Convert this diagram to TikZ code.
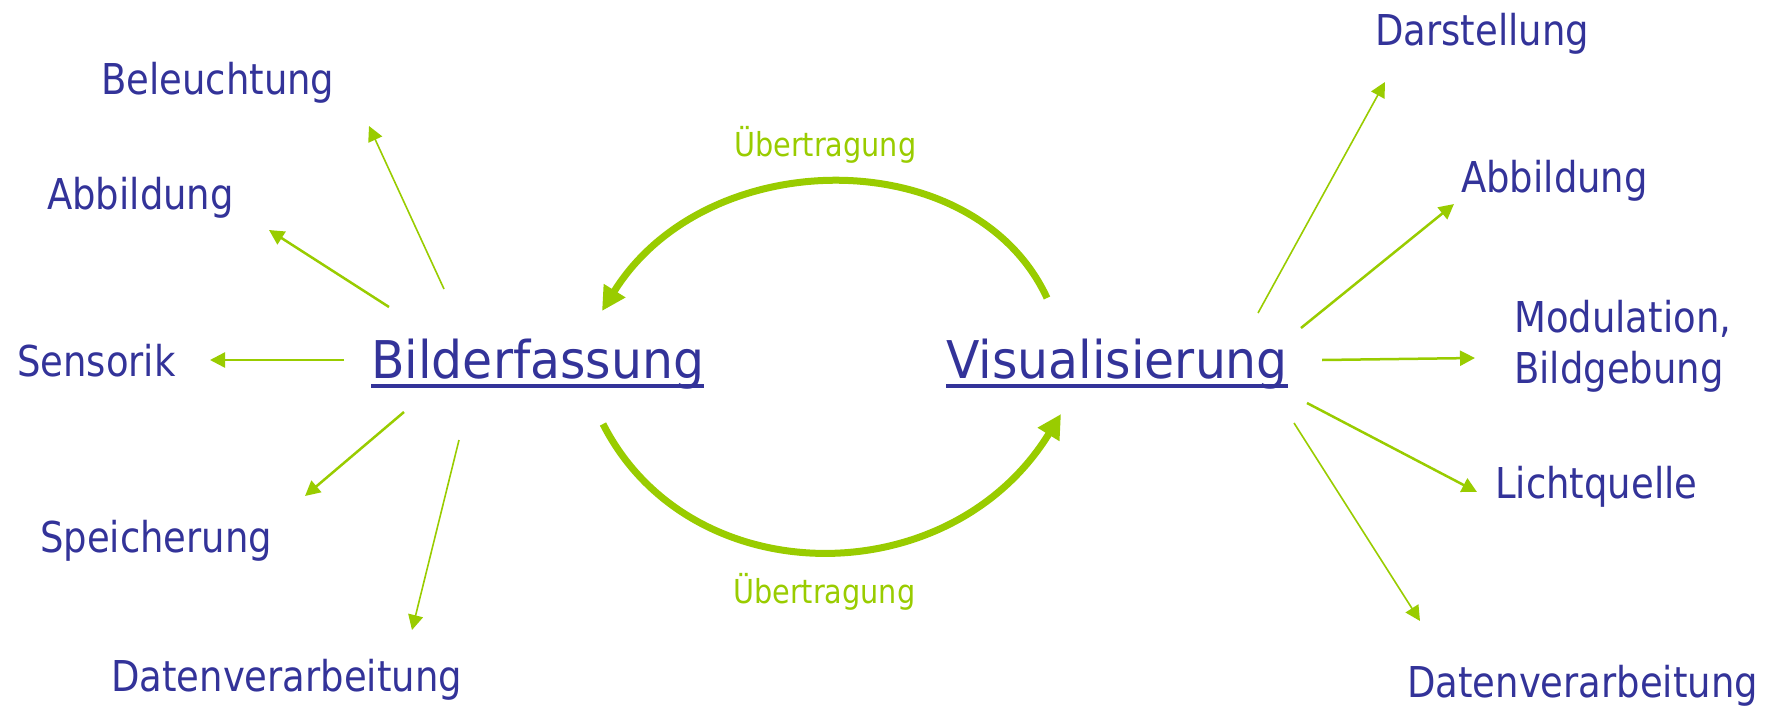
\documentclass[tikz,border=0pt]{standalone}
\usepackage{fontspec}
\usetikzlibrary{arrows.meta}
\newfontfamily\nebenfont[FakeStretch=0.87]{DejaVu Sans}
\newfontfamily\hauptfont[FakeStretch=0.94]{DejaVu Sans}
\newfontfamily\transfont[FakeStretch=0.87]{DejaVu Sans}
\definecolor{blau}{HTML}{333399}
\definecolor{gruen}{HTML}{99CC00}
\tikzset{
  begriff/.style={text=blau, font=\nebenfont\fontsize{42.5}{51}\selectfont, inner sep=0pt, anchor=base west, align=left},
  haupt/.style={text=blau, font=\hauptfont\fontsize{52}{60}\selectfont, inner sep=0pt, anchor=base west},
  uebertr/.style={text=gruen, font=\transfont\fontsize{33}{40}\selectfont, inner sep=0pt, anchor=base west},
  pfeil/.style={gruen, line width=2.5pt, -{Triangle[length=15pt,width=15pt]}},
  duenn/.style={line width=1.6pt},
  bogen/.style={gruen, line width=7pt, -{Triangle[length=24pt,width=24pt]}}
}
\begin{document}
\begin{tikzpicture}[x=1pt,y=-1pt]
        \useasboundingbox (0,0) rectangle (1778,707);
        %\draw[red] (0,0) rectangle (1778,707);

        % Hauptbegriffe
        \node[haupt] (bild) at (371,378) {Bilderfassung};
        \node[haupt] (vis) at (946,378) {Visualisierung};
        \draw[blau, line width=4pt] ([yshift=-8pt]bild.base west) -- ([yshift=-8pt]bild.base east);
        \draw[blau, line width=4pt] ([yshift=-8pt]vis.base west) -- ([yshift=-8pt]vis.base east);

        % links
        \node[begriff] (bel) at (101,94) {Beleuchtung};
        \node[begriff] (abbL) at (47,209) {Abbildung};
        \node[begriff] (sens) at (17,376) {Sensorik};
        \node[begriff] (speich) at (40,552) {Speicherung};
        \node[begriff] (datL) at (111,691) {Datenverarbeitung};

        % rechts
        \node[begriff] (darst) at (1375,45) {Darstellung};
        \node[begriff] (abbR) at (1461,192) {Abbildung};
        \node[begriff] (modul) at (1514,383) {Modulation,\\Bildgebung};
        \node[begriff] (licht) at (1495,498) {Lichtquelle};
        \node[begriff] (datR) at (1407,697) {Datenverarbeitung};

        \node[uebertr] (ueOben) at (734,156) {Übertragung};
        \node[uebertr] (ueUnten) at (733,603) {Übertragung};

        % Pfeilenden
        \coordinate (bA) at (444,289);  \coordinate (belT) at (369,126);
        \coordinate (bB) at (389,307);  \coordinate (abbLT) at (269,230);
        \coordinate (bC) at (344,360);  \coordinate (sensT) at (210,360);
        \coordinate (bD) at (404,412);  \coordinate (speichT) at (305,496);
        \coordinate (bE) at (459,440);  \coordinate (datLT) at (412,630);
        \coordinate (vA) at (1258,313); \coordinate (darstT) at (1385,82);
        \coordinate (vB) at (1301,328); \coordinate (abbRT) at (1454,204);
        \coordinate (vC) at (1322,360); \coordinate (modulT) at (1475,358);
        \coordinate (vD) at (1307,403); \coordinate (lichtT) at (1477,492);
        \coordinate (vE) at (1294,423); \coordinate (datRT) at (1420,621);

        \draw[pfeil,duenn] (bA) -- (belT);
        \draw[pfeil] (bB) -- (abbLT);
        \draw[pfeil] (bC) -- (sensT);
        \draw[pfeil] (bD) -- (speichT);
        \draw[pfeil,duenn] (bE) -- (datLT);
        \draw[pfeil,duenn] (vA) -- (darstT);
        \draw[pfeil] (vB) -- (abbRT);
        \draw[pfeil] (vC) -- (modulT);
        \draw[pfeil] (vD) -- (lichtT);
        \draw[pfeil,duenn] (vE) -- (datRT);

        % Übertragung hin und her
        \coordinate (visAus) at (1047,298); \coordinate (bildEin) at (602,311);
        \coordinate (bildAus) at (603,424); \coordinate (visEin) at (1061,414);
        \draw[bogen] (visAus) .. controls (975,142) and (707,142) .. (bildEin);
        \draw[bogen] (bildAus) .. controls (690,595) and (950,595) .. (visEin);
\end{tikzpicture}
\end{document}
